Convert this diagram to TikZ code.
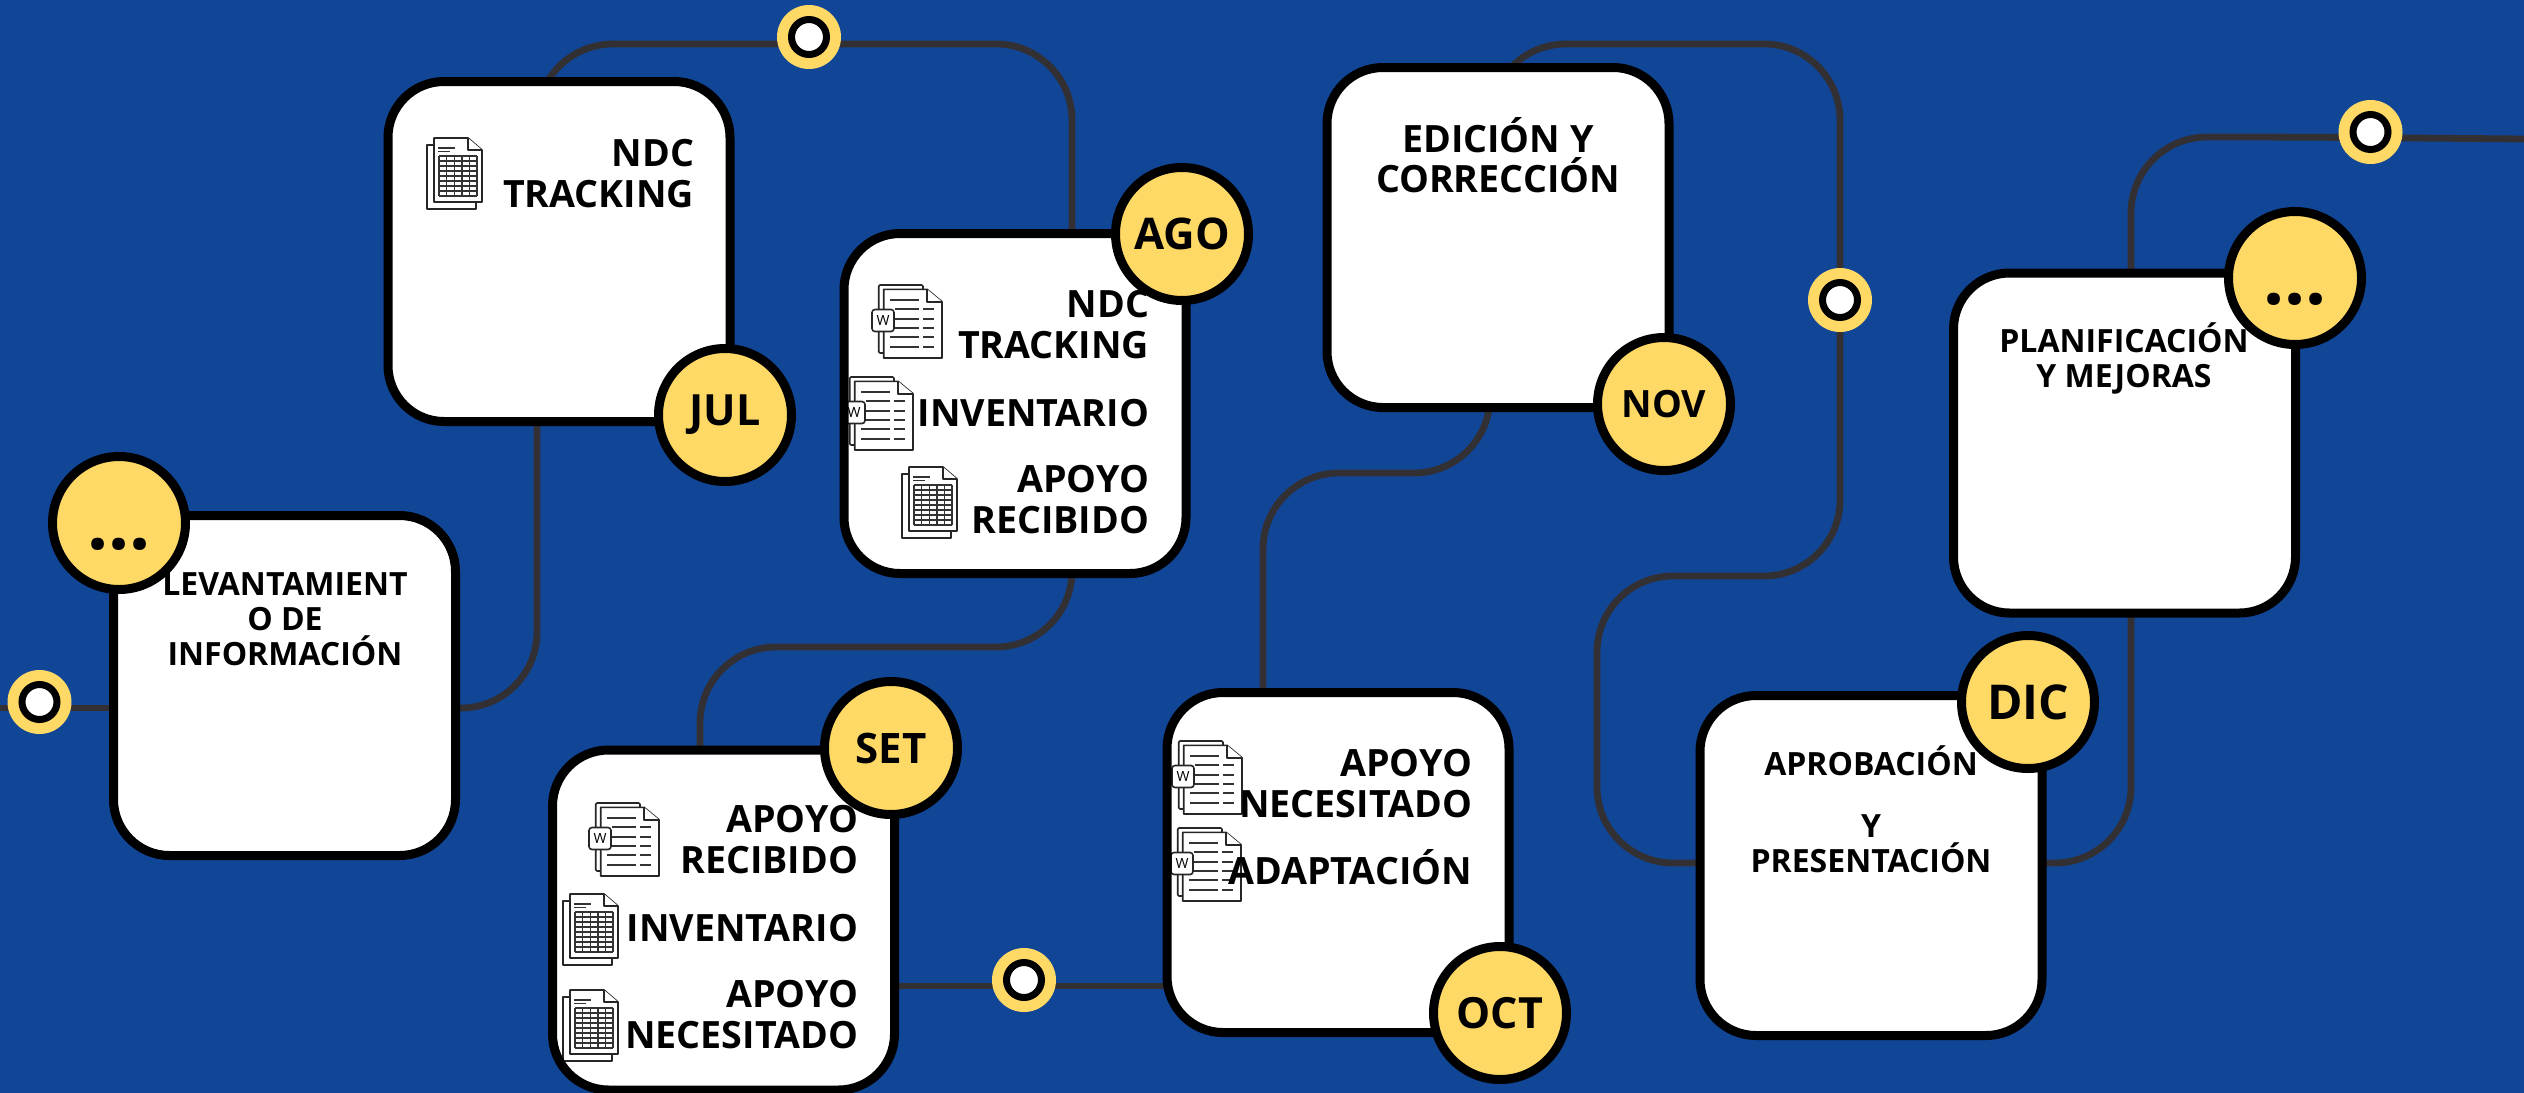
\documentclass[tikz,border=0pt]{standalone}
\usepackage{fontspec}
\setmainfont{Open Sans}
\pgfdeclarelayer{under}
\pgfsetlayers{under,main}
\definecolor{bgblue}{HTML}{114596}
\definecolor{sun}{HTML}{FFD966}
\definecolor{wire}{HTML}{333034}
\definecolor{ink}{HTML}{000000}
\newcommand{\pxfont}[2]{\fontsize{#1}{#2}\selectfont\bfseries}
\tikzset{
  conn/.style={draw=wire,line width=3.4pt,rounded corners=38pt},
  cardfill/.style={rectangle,fill=white,rounded corners=28pt,minimum width=171pt,minimum height=170pt,inner sep=0pt,outer sep=0pt},
  cardedge/.style={draw=ink,line width=4.5pt,rounded corners=28pt},
  badge/.style={circle,draw=ink,fill=sun,line width=4.5pt,minimum size=66.5pt,inner sep=0pt,outer sep=0pt,text=ink},
  ringout/.style={circle,fill=sun,minimum size=32pt,inner sep=0pt,outer sep=0pt},
  ringin/.style={circle,draw=ink,fill=white,line width=3.5pt,minimum size=17.5pt,inner sep=0pt,outer sep=0pt},
  rtext/.style={anchor=base east,align=right,inner sep=0pt,outer sep=0pt,text=ink,font=\pxfont{18.8}{20.2}},
  ctext/.style={anchor=base,align=center,inner sep=0pt,outer sep=0pt,text=ink,font=\pxfont{16}{17.5}},
  etext/.style={anchor=base,align=center,inner sep=0pt,outer sep=0pt,text=ink,font=\pxfont{18.8}{20}},
  icon/.style={draw=black!85,line width=0.8pt,fill=white,line join=round},
  iconthin/.style={draw=black!80,line width=1pt},
  wbadge/.style={rectangle,draw=black!85,fill=white,line width=0.8pt,rounded corners=1.5pt,minimum size=11pt,inner sep=0pt,outer sep=0pt,font=\fontsize{7}{7}\selectfont,text=ink},
}
\newcommand{\wordicon}[3]{%
  \begin{scope}[shift={(#1,#2)}]
    \draw[icon,rounded corners=0.6pt] (6.7,0) rectangle (51,68);
    \draw[icon] (11.7,4.3) -- (55,4.3) -- (70,16.7) -- (70,73) -- (11.7,73) -- cycle;
    \draw[icon] (55,4.3) -- (55,16.7) -- (70,16.7);
    \foreach \ly in {14.7,52.3,61.7} {\draw[iconthin] (18,\ly) -- (47,\ly);}
    \foreach \ly in {24.3,33.7,43} {\draw[iconthin] (23,\ly) -- (47,\ly);}
    \foreach \ly in {24.3,33.7,43,52.3,61.7} {\draw[iconthin] (51,\ly) -- (62,\ly);}
    \node[wbadge] (#3) at (11,35.5) {W};
  \end{scope}}
\newcommand{\sheeticon}[2]{%
  \begin{scope}[shift={(#1,#2)}]
    \draw[icon] (0,7) rectangle (49,71);
    \draw[icon] (7,0) -- (41,0) -- (55,12) -- (55,64) -- (7,64) -- cycle;
    \draw[icon] (41,0) -- (41,12) -- (55,12);
    \draw[iconthin,line width=0.6pt] (11,10) -- (28,10);
    \draw[iconthin,line width=0.6pt] (11,13.5) -- (23,13.5);
    \foreach \gx in {12,19.6,27.2,34.8,42.4,50} {\draw[iconthin,line width=0.7pt] (\gx,18) -- (\gx,58);}
    \foreach \gy in {18,23,28,33,38,43,48,53,58} {\draw[iconthin,line width=0.7pt] (12,\gy) -- (50,\gy);}
  \end{scope}}
\begin{document}
\begin{tikzpicture}[x=0.5pt,y=-0.5pt]
\useasboundingbox (0,0) rectangle (2524,1093);
% cards (white faces)
\node[cardfill] (lev) at (284.5,685.5) {};
\node[cardfill] (ndc) at (559,251.5) {};
\node[cardfill] (ago) at (1015,403.5) {};
\node[cardfill] (set) at (723.5,920) {};
\node[cardfill] (oct) at (1338,862.5) {};
\node[cardfill] (edi) at (1498,237.5) {};
\node[cardfill] (apr) at (1871,865.5) {};
\node[cardfill] (pln) at (2124.5,443) {};
\coordinate (leftend) at (0,708);
\coordinate (rightend) at (2524,139);
% connectors, behind the cards
\begin{pgfonlayer}{under}
\fill[bgblue] (0,0) rectangle (2524,1093);
\draw[draw=wire,line width=3.4pt] (leftend) -- (lev.center |- leftend);
\draw[conn] (lev.center |- leftend) -- (537,708) -- (537,44) -- (1072,44) -- (ago.center -| 1072,0);
\draw[conn] (ago.center -| 1072,0) -- (1072,647) -- (700,647) -- (set.center -| 700,0);
\draw[draw=wire,line width=3.4pt] (set.center |- 0,986) -- (oct.center |- 0,986);
\draw[conn] (oct.center -| 1263,0) -- (1263,473) -- (1490,473) -- (1490,44) -- (1840,44) -- (1840,576) -- (1597,576) -- (1597,863) -- (apr.center |- 0,863);
\draw[conn] (apr.center |- 0,863) -- (2131,863) -- (2131,137) -- (2300,137) -- (rightend);
\end{pgfonlayer}
% icons
\sheeticon{427}{138}
\wordicon{872}{285}{wa}
\wordicon{843}{377}{wb}
\sheeticon{902}{467}
\wordicon{589}{803}{wc}
\sheeticon{563}{894}
\sheeticon{563}{990}
\wordicon{1172}{741}{wd}
\wordicon{1171}{828}{we}
% card outlines
\foreach \nm in {lev,ndc,ago,set,oct,edi,apr,pln}{
  \draw[cardedge] (\nm.north west) rectangle (\nm.south east);
}
% texts
\node[ctext] (tlev) at (285,665) {LEVANTAMIENT\\O DE\\INFORMACIÓN};
\node[rtext] (tndc) at (694,207) {NDC\\TRACKING};
\node[rtext] (tago1) at (1149,358) {NDC\\TRACKING};
\node[rtext] (tago2) at (1149,426) {INVENTARIO};
\node[rtext] (tago3) at (1149,533) {APOYO\\RECIBIDO};
\node[rtext] (tset1) at (858,873) {APOYO\\RECIBIDO};
\node[rtext] (tset2) at (858,941) {INVENTARIO};
\node[rtext] (tset3) at (858,1048) {APOYO\\NECESITADO};
\node[rtext] (toct1) at (1472,817) {APOYO\\NECESITADO};
\node[rtext] (toct2) at (1472,884) {ADAPTACIÓN};
\node[etext] (tedi) at (1498,192) {EDICIÓN Y\\CORRECCIÓN};
\node[ctext] (tapr) at (1871,872) {APROBACIÓN\\[13.5pt]Y\\PRESENTACIÓN};
\node[ctext] (tpln) at (2124,387) {PLANIFICACIÓN\\Y MEJORAS};
% month badges
\node[badge,font=\pxfont{37}{37}] (b0) at (119,523) {\rule{0pt}{27.3pt}...};
\node[badge,font=\pxfont{21.5}{22}] (b1) at (725,415) {JUL};
\node[badge,font=\pxfont{21.8}{22}] (b2) at (1182,234) {AGO};
\node[badge,font=\pxfont{21}{21}] (b3) at (891,748) {SET};
\node[badge,font=\pxfont{21.5}{22}] (b4) at (1500,1013) {OCT};
\node[badge,font=\pxfont{18.8}{19}] (b5) at (1664,404) {NOV};
\node[badge,font=\pxfont{24}{24}] (b6) at (2028,702) {DIC};
\node[badge,font=\pxfont{37}{37}] (b7) at (2295,278) {\rule{0pt}{27.3pt}...};
% rings
\foreach \rn/\rx/\ry in {r0/39.5/702,r1/809/37,r2/1024/980,r3/1840/300,r4/2370.5/132}{
  \node[ringout] (\rn o) at (\rx,\ry) {};
  \node[ringin] (\rn i) at (\rx,\ry) {};
}
\end{tikzpicture}
\end{document}
